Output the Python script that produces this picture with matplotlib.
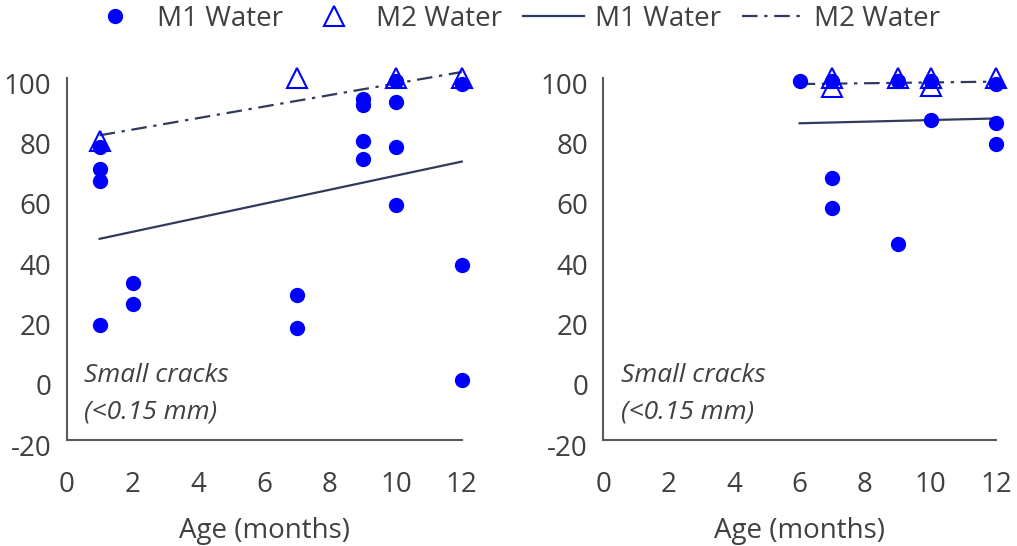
import matplotlib.pyplot as plt
import matplotlib.transforms as mtransforms
from matplotlib.lines import Line2D

plt.rcParams['font.family'] = ['Open Sans', 'DejaVu Sans']
plt.rcParams['axes.unicode_minus'] = False

# left panel (all ages)
left_m1_x = [1, 1, 1, 1, 2, 2, 7, 7, 9, 9, 9, 9, 10, 10, 10, 10, 12, 12, 12]
left_m1_y = [77, 70, 66, 18, 32, 25, 28, 17, 93, 91, 79, 73, 99, 92, 77, 58, 98, 38, 0]
left_m2_x = [1, 7, 10, 12]
left_m2_y = [79, 100, 100, 100]
left_fit1_x = [1, 12]
left_fit1_y = [46.7, 72.3]
left_fit2_x = [1, 12]
left_fit2_y = [81, 102]

# right panel
right_m1_x = [6, 7, 7, 7, 9, 9, 10, 10, 12, 12, 12]
right_m1_y = [99, 99, 67, 57, 99, 45, 99, 86, 98, 85, 78]
right_m2_x = [7, 7, 9, 10, 10, 12]
right_m2_y = [100, 97, 100, 100, 97.5, 100]
right_fit1_x = [6, 12]
right_fit1_y = [85, 86.6]
right_fit2_x = [6, 12]
right_fit2_y = [98, 98.8]

xticks = [0, 2, 4, 6, 8, 10, 12]
yticks = [-20, 0, 20, 40, 60, 80, 100]

dot_color = '#0000FF'
line_color = '#2E3B5B'
axis_color = '#595959'
text_color = '#404040'
dashdot = (0, (7, 3, 1.5, 3))

fig = plt.figure(figsize=(10.17, 5.46), dpi=100)
ax1 = fig.add_axes([0.0656, 0.1941, 0.3884, 0.663])
ax2 = fig.add_axes([0.5932, 0.1941, 0.3861, 0.663])

panels = [
    (ax1, left_m1_x, left_m1_y, left_m2_x, left_m2_y,
     left_fit1_x, left_fit1_y, left_fit2_x, left_fit2_y),
    (ax2, right_m1_x, right_m1_y, right_m2_x, right_m2_y,
     right_fit1_x, right_fit1_y, right_fit2_x, right_fit2_y),
]

# Excel puts the y labels a little below their gridline position
offset = mtransforms.ScaledTranslation(0, -5 / 100, fig.dpi_scale_trans)

for ax, m1x, m1y, m2x, m2y, f1x, f1y, f2x, f2y in panels:
    ax.plot(f1x, f1y, color=line_color, lw=1.6, clip_on=False, zorder=2)
    ax.plot(f2x, f2y, color=line_color, lw=1.6, linestyle=dashdot,
            clip_on=False, zorder=2)
    ax.plot(m1x, m1y, 'o', color=dot_color, ms=10, clip_on=False, zorder=3)
    ax.plot(m2x, m2y, '^', mfc='none', mec=dot_color, mew=1.5, ms=15,
            clip_on=False, zorder=4)

    ax.set_xlim(0, 12)
    ax.set_ylim(-20, 100)
    ax.set_xticks(xticks)
    ax.set_yticks(yticks)
    for s in ['top', 'right']:
        ax.spines[s].set_visible(False)
    for s in ['left', 'bottom']:
        ax.spines[s].set_color(axis_color)
        ax.spines[s].set_linewidth(1.5)
    ax.tick_params(axis='both', length=0, labelsize=20, labelcolor=text_color)
    ax.tick_params(axis='x', pad=22)
    ax.tick_params(axis='y', pad=11)
    for lab in ax.get_yticklabels():
        lab.set_transform(lab.get_transform() + offset)
    ax.set_xlabel('Age (months)', fontsize=20, color=text_color, labelpad=13)

    ax.text(0.044, 0.177, 'Small cracks', transform=ax.transAxes, fontsize=19,
            style='italic', color=text_color, va='center', ha='left')
    ax.text(0.044, 0.077, '(<0.15 mm)', transform=ax.transAxes, fontsize=19,
            style='italic', color=text_color, va='center', ha='left')

handles = [
    Line2D([], [], marker='o', color=dot_color, ls='none', ms=10),
    Line2D([], [], marker='^', mfc='none', mec=dot_color, mew=1.5, ls='none', ms=15),
    Line2D([], [], color=line_color, lw=1.6),
    Line2D([], [], color=line_color, lw=1.6, linestyle=dashdot),
]
labels = ['M1 Water', 'M2 Water', 'M1 Water', 'M2 Water']
leg = fig.legend(handles, labels, loc='center', bbox_to_anchor=(0.504, 0.965),
                 ncol=4, frameon=False, fontsize=20, handlelength=2.2,
                 columnspacing=0.75, handletextpad=0.4, borderpad=0.2)
for t in leg.get_texts():
    t.set_color(text_color)

fig.savefig('out.png', dpi=100)
